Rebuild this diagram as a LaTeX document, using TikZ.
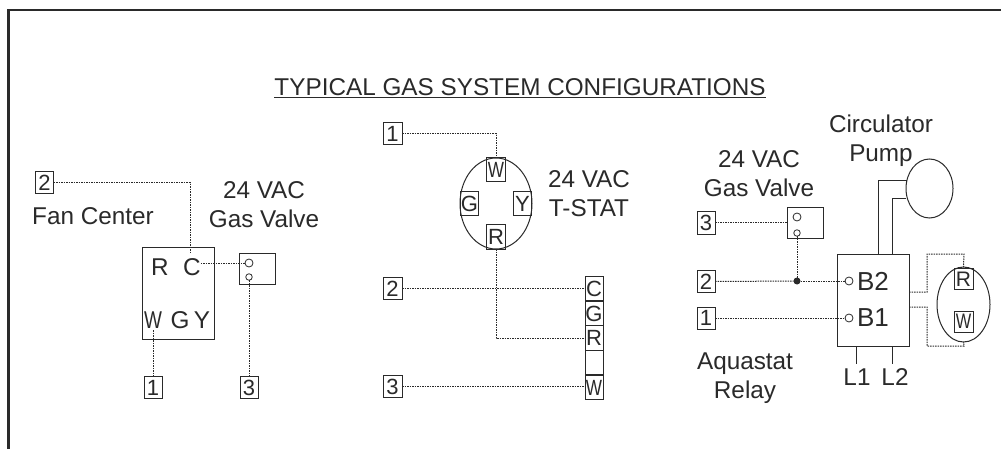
\documentclass[tikz,border=0pt]{standalone}
\usepackage{fontspec}
\usetikzlibrary{shapes.geometric}
\setmainfont{Liberation Sans}
\definecolor{ink}{HTML}{2A2A2A}
\newcommand\narrowW{\scalebox{0.78}[1]{W}}
\tikzset{
 x=1pt,y=-1pt,
 every node/.style={text=ink,inner sep=0pt,outer sep=0pt},
 frameline/.style={draw=ink,line width=2.6pt},
 part/.style={draw=ink,line width=1pt},
 wire/.style={draw=ink,line width=1pt,dash pattern=on 1.5pt off 1pt},
 solidwire/.style={draw=ink,line width=0.9pt},
 lab/.style={font=\fontsize{24.3}{29}\selectfont,align=center},
 numbox/.style={part,fill=white,minimum width=18pt,minimum height=22pt,font=\fontsize{22}{22}\selectfont},
 termbox/.style={part,minimum width=18.5pt,minimum height=24pt,font=\fontsize{22}{22}\selectfont},
 strip/.style={part,minimum width=18pt,minimum height=24.8pt,font=\fontsize{22}{22}\selectfont},
 conn/.style={draw=ink,line width=0.8pt,circle,minimum size=8pt},
 conns/.style={draw=ink,line width=0.8pt,circle,minimum size=6.5pt},
}
\begin{document}
\begin{tikzpicture}
\useasboundingbox (0,0) rectangle (1001,449);
\fill[white] (0,0) rectangle (1001,449);
\coordinate (fa) at (8.5,449); \coordinate (fb) at (8.5,10); \coordinate (fc) at (1001,10);
\draw[frameline] (fa) -- (fb) -- (fc);
\node[font=\fontsize{24.3}{26}\selectfont] (title) at (520,88.5) {\underline{TYPICAL GAS SYSTEM CONFIGURATIONS}};
% left panel
\node[part,minimum width=72pt,minimum height=92pt] (fan) at (178,293) {};
\node[part,minimum width=36pt,minimum height=31pt] (valveA) at (257,268.5) {};
\node[numbox] (a2) at (44.5,183) {2};
\node[numbox] (a1) at (153,387.5) {1};
\node[numbox] (a3) at (249,387.5) {3};
\node[lab] (fanlab) at (93,216) {Fan Center};
\node[lab] (valveAlab) at (264,205) {24 VAC\\Gas Valve};
\node[lab] (fR) at (160,267) {R};
\node[lab] (fC) at (192,267) {C};
\node[lab] (fW) at (153,320) {\narrowW};
\node[lab] (fG) at (180,320) {G};
\node[lab] (fY) at (202,320) {Y};
\node[conn] (vA1) at (249,263) {};
\node[conns] (vA2) at (249,277) {};
\coordinate (fCj) at (fC.east |- vA1.west);
\coordinate (fWs) at (153,330);
\coordinate (fCn) at (190,253);
\draw[wire] (a2.east) -| (fCn);
\draw[wire] (fCj) -- (vA1.west);
\draw[wire] (vA2.south) -- (a3.north);
\draw[wire] (fWs) -- (a1.north);
% middle panel
\node[part,minimum width=72pt,minimum height=91pt,ellipse] (ts) at (496,203.5) {};
\node[numbox,minimum width=19pt] (b1) at (392.5,134) {1};
\node[numbox,minimum width=19pt] (b2) at (392.5,288.5) {2};
\node[numbox,minimum width=19pt] (b3) at (392.5,386.5) {3};
\node[termbox] (tW) at (496,170) {\narrowW};
\node[termbox] (tG) at (469.5,204) {G};
\node[termbox] (tY) at (522.5,204) {Y};
\node[termbox] (tR) at (496,237) {R};
\node[strip] (sC) at (594,288.5) {C};
\node[strip] (sG) at (594,313.5) {G};
\node[strip] (sR) at (594,338) {R};
\node[strip] (sB) at (594,362.5) {};
\node[strip] (sW) at (594,387.5) {\narrowW};
\node[lab] (tslab) at (589,193.5) {24 VAC\\T-STAT};
\coordinate (tRj) at (tR.south |- sR.west);
\draw[wire] (b1.east) -| (tW.north);
\draw[wire] (b2.east) -- (sC.west);
\draw[wire] (tR.south) -- (tRj) -- (sR.west);
\draw[wire] (b3.east) -- (sW.west |- b3.east);
% right panel
\node[part,minimum width=72pt,minimum height=92pt] (relay) at (873,300) {};
\node[part,minimum width=36pt,minimum height=30pt] (valveB) at (805,223) {};
\node[numbox] (c3) at (706,223) {3};
\node[numbox] (c2) at (706,281.5) {2};
\node[numbox] (c1) at (706,318) {1};
\node[conn] (vB1) at (797,217) {};
\node[conns] (vB2) at (797,233) {};
\node[conn] (rB2) at (849,281) {};
\node[conn] (rB1) at (849,318) {};
\node[font=\fontsize{26}{26}\selectfont] (lB2) at (873,281) {B2};
\node[font=\fontsize{26}{26}\selectfont] (lB1) at (873,318) {B1};
\node[lab] (lL1) at (857,377) {L1};
\node[lab] (lL2) at (895,377) {L2};
\node[lab] (aqua) at (745,378.5) {Aquastat\\Relay};
\node[lab] (circ) at (881,140.5) {Circulator\\Pump};
\node[lab] (valveBlab) at (759,173.5) {24 VAC\\Gas Valve};
\node[part,ellipse,minimum width=47pt,minimum height=59pt] (pump) at (929.5,188.5) {};
\node[part,ellipse,minimum width=53pt,minimum height=75pt] (th) at (963.5,304.5) {};
\node[part,minimum width=19pt,minimum height=21pt,font=\fontsize{21}{22}\selectfont] (thR) at (963.5,279) {R};
\node[part,minimum width=19pt,minimum height=21pt,font=\fontsize{21}{22}\selectfont] (thW) at (963.5,321.5) {\narrowW};
\node[fill=ink,circle,minimum size=7pt] (dot) at (797,281) {};
\coordinate (p1) at (878,180); \coordinate (p2) at (892,198);
\coordinate (r1) at (878,254); \coordinate (r2) at (892,254);
\coordinate (pe1) at (907,180); \coordinate (pe2) at (906,198);
\coordinate (l1a) at (856,346); \coordinate (l1b) at (856,364);
\coordinate (l2a) at (892,346); \coordinate (l2b) at (892,364);
\draw[solidwire] (r1) -- (p1) -- (pe1);
\draw[solidwire] (r2) -- (p2) -- (pe2);
\draw[solidwire] (l1a) -- (l1b);
\draw[solidwire] (l2a) -- (l2b);
\draw[wire] (c3.east) -- (valveB.west);
\draw[wire] (c2.east) -- (dot);
\draw[wire] (dot) -- (rB2.west);
\draw[wire] (c1.east) -- (rB1.west);
\draw[wire] (vB2.south) -- (dot);
\coordinate (ra) at (909,292); \coordinate (rb) at (927,292); \coordinate (rc) at (927,254); \coordinate (rd) at (964,254);
\coordinate (sa) at (909,307); \coordinate (sb) at (927,307); \coordinate (sc) at (927,346); \coordinate (sd) at (964,346);
\draw[wire] (ra) -- (rb) -- (rc) -- (rd) -- (th.north);
\draw[wire] (sa) -- (sb) -- (sc) -- (sd) -- (th.south);
\end{tikzpicture}
\end{document}
